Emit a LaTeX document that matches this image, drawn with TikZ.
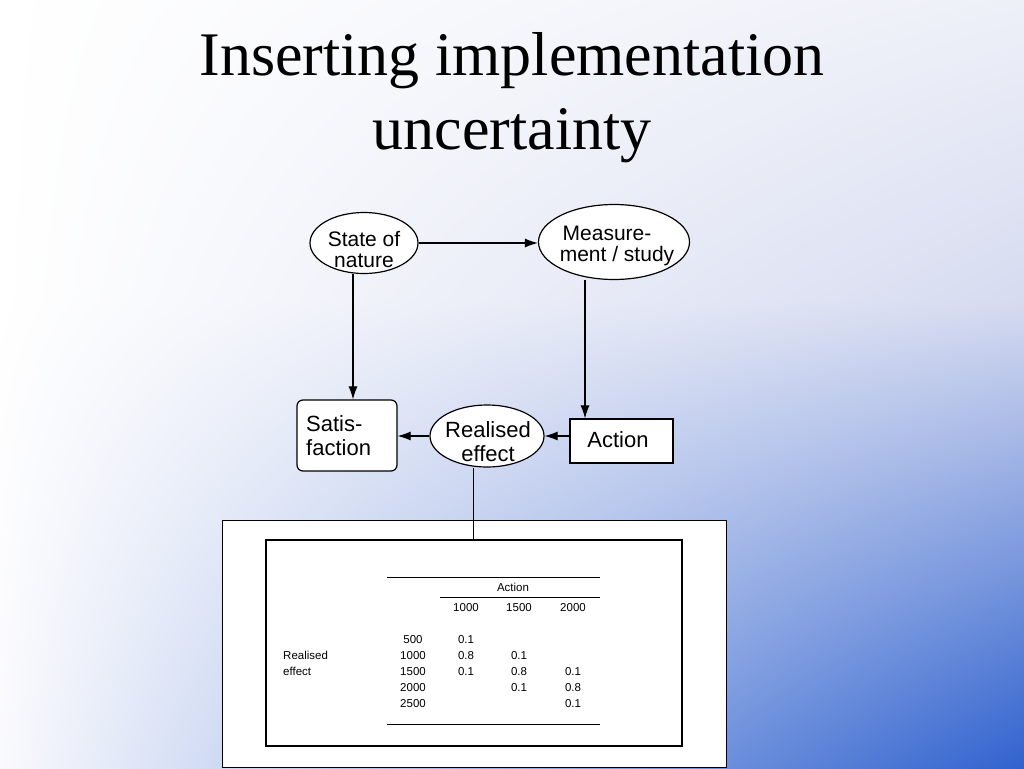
\documentclass[tikz,border=0pt]{standalone}
\usepackage{fontspec}
\setmainfont{Liberation Serif}
\newfontfamily\arialfont{Liberation Sans}
\usetikzlibrary{shapes.geometric,arrows.meta,shadings}
\definecolor{bgblue}{HTML}{3062CE}
\definecolor{bgpale}{HTML}{EEF0F8}
\definecolor{bgmid}{HTML}{D6DBF0}
\definecolor{bgleft}{HTML}{FAFAFD}
\begin{document}
\begin{tikzpicture}[x=1pt,y=-1pt,
  shape ell/.style={ellipse,draw=black,line width=1.2pt,fill=white,inner sep=0pt},
  boxshape/.style={rectangle,draw=black,line width=1.2pt,fill=white,inner sep=0pt},
  lbl/.style={font=\arialfont\fontsize{21}{21}\selectfont,align=center,inner sep=0pt},
  lblb/.style={font=\arialfont\fontsize{22}{24}\selectfont,align=center,inner sep=0pt},
  conn/.style={line width=1.1pt,-{Latex[length=13pt,width=9pt]}},
  tab/.style={font=\arialfont\fontsize{11.5}{13}\selectfont,inner sep=0pt,anchor=base},
  rule/.style={line width=0.8pt}]
\useasboundingbox (0,0) rectangle (1024,768);
\shade[upper left=white,upper right=bgpale,lower left=white,lower right=bgmid] (0,0) rectangle (1024,300.5);
\shade[upper left=white,upper right=bgmid,lower left=bgleft,lower right=bgblue] (0,300) rectangle (1024,768);
% title
\node[font=\fontsize{62}{74}\selectfont,align=center,anchor=north] (title) at (512,29) {Inserting implementation\\uncertainty};
% nodes
\node[shape ell,minimum width=108,minimum height=61] (son) at (364,243) {};
\node[lbl] (sontxt) at (364,250) {State of\\nature};
\node[shape ell,minimum width=151,minimum height=75] (mes) at (614,242) {};
\node[lbl] (mestxt) at (617,246) {Measure-\hspace*{20pt}\\ment / study};
\node[boxshape,rounded corners=6pt,minimum width=100,minimum height=71] (sat) at (347,435.5) {};
\node[lblb,align=left,anchor=west] (sattxt) at (306,436) {Satis-\\faction};
\node[shape ell,minimum width=114,minimum height=62] (rea) at (487,436) {};
\node[lblb] (reatxt) at (488,442) {Realised\\effect};
\node[boxshape,minimum width=103,minimum height=44] (act) at (621.5,441) {};
\node[lblb] (acttxt) at (618,440) {Action};
% connectors
\draw[conn] (son.east) -- (son.east -| mes.west);
\draw[conn] (son.south -| 353,0) -- (sat.north -| 353,0);
\draw[conn] (mes.south -| 585,0) -- (act.north -| 585,0);
\draw[conn] (rea.west) -- (rea.west -| sat.east);
\draw[conn] (rea.east -| act.west) -- (rea.east);
% table frames
\node[boxshape,line width=0.8pt,minimum width=504,minimum height=247,anchor=north west] (outer) at (222,520) {};
\node[boxshape,line width=2pt,minimum width=416,minimum height=206,anchor=north west] (inner) at (265,539) {};
\draw[line width=1pt] (rea.south -| 473,0) -- (inner.north -| 473,0);
% table
\coordinate (r1a) at (387,577); \coordinate (r1b) at (600,577);
\coordinate (r2a) at (440,597); \coordinate (r2b) at (600,597);
\coordinate (r3a) at (387,724); \coordinate (r3b) at (600,724);
\draw[rule] (r1a) -- (r1b);
\draw[rule] (r2a) -- (r2b);
\draw[rule] (r3a) -- (r3b);
\node[tab] at (513,591) {Action};
\node[tab] at (466,611) {1000};
\node[tab] at (519,611) {1500};
\node[tab] at (573,611) {2000};
\node[tab,anchor=base west] at (283,659) {Realised};
\node[tab,anchor=base west] at (283,675) {effect};
\node[tab] at (413,643) {500};
\node[tab] at (413,659) {1000};
\node[tab] at (413,675) {1500};
\node[tab] at (413,691) {2000};
\node[tab] at (413,707) {2500};
\node[tab] at (466,643) {0.1};
\node[tab] at (466,659) {0.8};
\node[tab] at (466,675) {0.1};
\node[tab] at (519,659) {0.1};
\node[tab] at (519,675) {0.8};
\node[tab] at (519,691) {0.1};
\node[tab] at (573,675) {0.1};
\node[tab] at (573,691) {0.8};
\node[tab] at (573,707) {0.1};
\end{tikzpicture}
\end{document}
